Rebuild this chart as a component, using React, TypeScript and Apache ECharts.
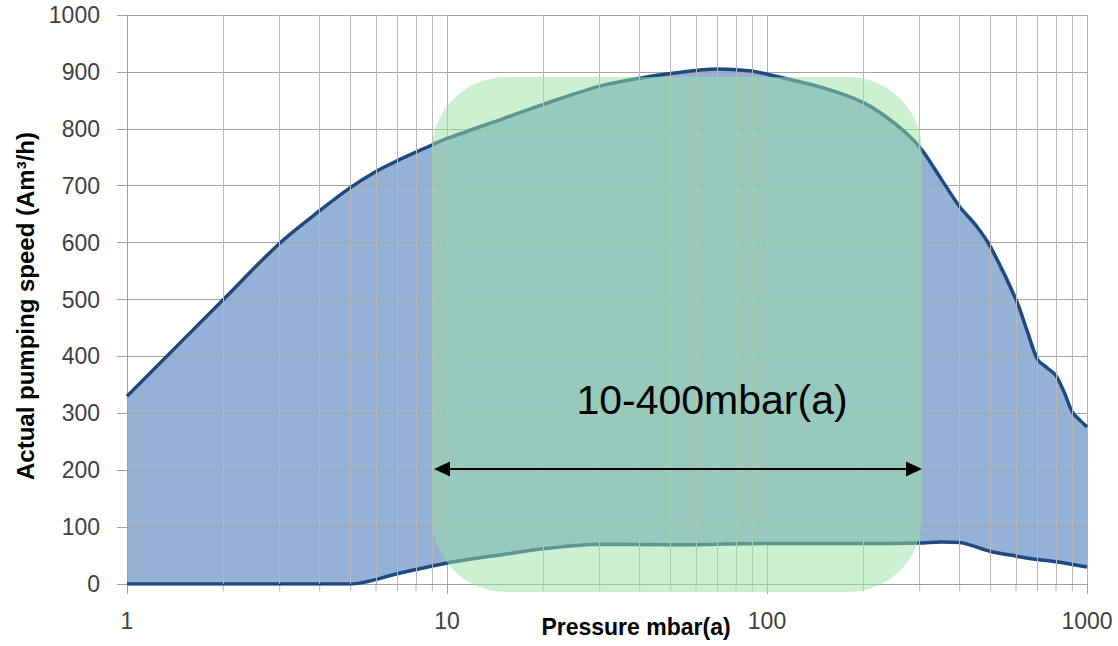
import React, { useEffect, useRef } from 'react';
import * as echarts from 'echarts';

// Upper curve: actual pumping speed (Am³/h) vs pressure mbar(a)
const upperPressure = [1, 2, 3, 4, 5, 6, 7, 8, 9, 10, 15, 20, 30, 40, 50, 70, 88, 100, 150, 200, 250, 300, 350, 400, 450, 500, 600, 650, 700, 750, 800, 850, 900, 950, 1000];
const upperSpeed = [330, 500, 599, 656, 697, 725, 744, 759, 772, 783, 818, 843, 875, 889, 897, 905, 902, 896, 872, 846, 810, 768, 712, 663, 630, 592, 500, 445, 395, 380, 366, 336, 302, 288, 276];

// Lower curve
const lowerPressure = [1, 5, 7, 10, 15, 20, 30, 50, 100, 200, 300, 350, 400, 500, 600, 700, 800, 1000];
const lowerSpeed = [0, 0, 18, 37, 52, 62, 70, 69, 71, 71, 72, 74, 73, 57, 49, 43, 39, 30];

// Minor log grid positions
const minorPressures = [2, 3, 4, 5, 6, 7, 8, 9, 20, 30, 40, 50, 60, 70, 80, 90, 200, 300, 400, 500, 600, 700, 800, 900];

const yTicks = { min: 0, max: 1000, interval: 100 };

const rangeLabel = '10-400mbar(a)';
const xName = 'Pressure mbar(a)';
const yName = 'Actual pumping speed (Am³/h)';

export default function App() {
  const ref = useRef<HTMLDivElement>(null);
  useEffect(() => {
    if (!ref.current) return;
    const chart = echarts.init(ref.current, undefined, { renderer: 'svg' });
    const upper = upperPressure.map((p, i) => [p, upperSpeed[i]]);
    const lower = lowerPressure.map((p, i) => [p, lowerSpeed[i]]);
    const lineColor = '#1f4a80';
    const font = 'Liberation Sans';
    chart.setOption({
      animation: false,
      grid: { left: 127, top: 15, right: 31, bottom: 62, containLabel: false, outerBoundsMode: 'none' },
      xAxis: {
        type: 'log',
        logBase: 10,
        min: 1,
        max: 1000,
        z: 2,
        axisLine: { show: true, lineStyle: { color: '#a0a0a0', width: 1 } },
        axisTick: { show: true, length: 10, lineStyle: { color: '#a0a0a0' } },
        axisLabel: { fontSize: 23, fontFamily: font, color: '#404040', margin: 25, formatter: (v: number) => String(v) },
        splitLine: { show: true, lineStyle: { color: '#b0b0b0', width: 1 } },
      },
      yAxis: {
        type: 'value',
        min: yTicks.min,
        max: yTicks.max,
        interval: yTicks.interval,
        z: 2,
        axisLine: { show: true, lineStyle: { color: '#a0a0a0', width: 1 } },
        axisTick: { show: true, length: 10, lineStyle: { color: '#a0a0a0' } },
        axisLabel: { fontSize: 23, fontFamily: font, color: '#404040', margin: 27, formatter: (v: number) => String(v) },
        splitLine: { show: true, lineStyle: { color: '#a4a4a4', width: 1 } },
      },
      series: [
        {
          type: 'line', data: upper, smooth: 0.3, symbol: 'none', z: 1, silent: true,
          lineStyle: { width: 0 }, areaStyle: { color: '#95b1d6', opacity: 1 },
        },
        {
          type: 'line', data: lower, smooth: 0.3, symbol: 'none', z: 1, silent: true,
          lineStyle: { width: 0 }, areaStyle: { color: '#ffffff', opacity: 1 },
        },
        {
          type: 'line', data: [], z: 2, silent: true,
          markLine: {
            silent: true, symbol: ['none', 'none'], label: { show: false },
            lineStyle: { color: '#b8b8b8', width: 1, type: 'solid' },
            emphasis: { disabled: true },
            data: minorPressures.map((p) => ({ xAxis: p })),
          },
        },
        {
          type: 'scatter', data: minorPressures.map((p) => [p, 0]), z: 2, silent: true, clip: false,
          symbol: 'rect', symbolSize: [1, 7], symbolOffset: [0, 4],
          itemStyle: { color: '#a8a8a8' },
        },
        {
          type: 'line', data: upper, smooth: 0.3, symbol: 'none', z: 3, silent: true,
          lineStyle: { color: lineColor, width: 3.5 },
        },
        {
          type: 'line', data: lower, smooth: 0.3, symbol: 'none', z: 3, silent: true,
          lineStyle: { color: lineColor, width: 3.5 },
        },
      ],
      graphic: [
        {
          type: 'rect', z: 100, silent: true,
          shape: { x: 432, y: 77, width: 490, height: 515, r: 74 },
          style: { fill: 'rgba(153,225,161,0.5)' },
        },
        {
          type: 'line', z: 101, silent: true,
          shape: { x1: 446, y1: 469, x2: 910, y2: 469 },
          style: { stroke: '#000', lineWidth: 2 },
        },
        {
          type: 'polygon', z: 101, silent: true,
          shape: { points: [[434, 469], [450, 461.5], [450, 476.5]] },
          style: { fill: '#000' },
        },
        {
          type: 'polygon', z: 101, silent: true,
          shape: { points: [[922, 469], [906, 461.5], [906, 476.5]] },
          style: { fill: '#000' },
        },
        {
          type: 'text', z: 101, silent: true, x: 712, y: 400,
          style: { text: rangeLabel, fontSize: 41, fontFamily: font, fill: '#000', align: 'center', verticalAlign: 'middle' },
        },
        {
          type: 'text', z: 101, silent: true, x: 636, y: 627,
          style: { text: xName, fontSize: 23, fontWeight: 'bold', fontFamily: font, fill: '#000', align: 'center', verticalAlign: 'middle' },
        },
        {
          type: 'text', z: 101, silent: true, x: 25, y: 306, rotation: Math.PI / 2,
          style: { text: yName, fontSize: 24, fontWeight: 'bold', fontFamily: font, fill: '#000', align: 'center', verticalAlign: 'middle' },
        },
      ],
    });
    return () => chart.dispose();
  }, []);
  return <div ref={ref} style={{ position: 'absolute', left: 0, top: 0, width: 1118, height: 646 }} />;
}
